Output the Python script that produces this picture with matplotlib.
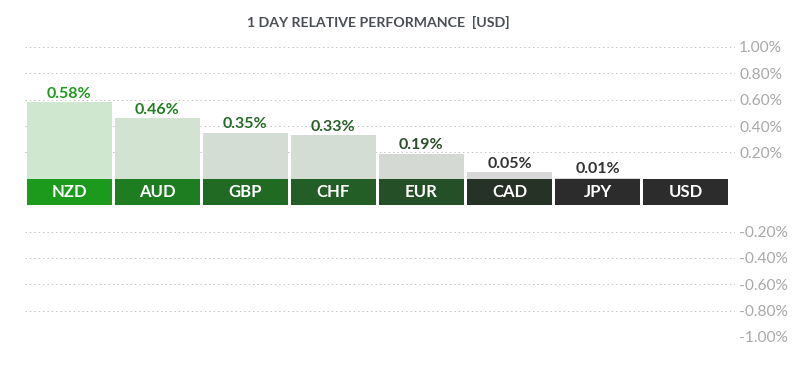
import matplotlib.pyplot as plt
from matplotlib.patches import Rectangle

# datos
monedas = ["NZD", "AUD", "GBP", "CHF", "EUR", "CAD", "JPY", "USD"]
valores = [0.58, 0.46, 0.35, 0.33, 0.19, 0.05, 0.01, 0.0]
etiquetas_valor = ["0.58%", "0.46%", "0.35%", "0.33%", "0.19%", "0.05%", "0.01%", ""]
ticks_pos = [1.0, 0.8, 0.6, 0.4, 0.2]
ticks_neg = [-0.2, -0.4, -0.6, -0.8, -1.0]

color_caja = ["#1c9a1c", "#1f7d21", "#216a24", "#225e26", "#244f27", "#273227", "#2c2c2c", "#2c2c2c"]
color_barra = ["#cfe7cf", "#d2e3d2", "#d3ddd3", "#d3ddd3", "#d4d9d4", "#d8d8d8", "#d9d9d9", "#d9d9d9"]
color_texto = ["#1f9a1f", "#217d21", "#256b25", "#275f27", "#294f29", "#333333", "#333333", "#333333"]

BANDA = 0.2  # alto de la franja de etiquetas (en unidades de %)
fuente = "Lato"

fig = plt.figure(figsize=(8, 3.71), dpi=100)
ax = fig.add_axes([25 / 800, 34 / 371, 710 / 800, 290 / 371])
ax.set_xlim(-0.5, 7.56)
ax.set_ylim(-1.0 - BANDA, 1.0)
for s in ax.spines.values():
    s.set_visible(False)
ax.set_xticks([])

# rejilla y etiquetas del eje
pos_y = ticks_pos + [t - BANDA for t in ticks_neg]
ax.set_yticks(pos_y)
ax.set_yticklabels([f"{t:.2f}%" for t in ticks_pos + ticks_neg])
ax.yaxis.tick_right()
ax.tick_params(axis="y", length=0, pad=3, labelsize=11.2, labelcolor="#a9a9a9")
for lbl in ax.get_yticklabels():
    lbl.set_fontfamily(fuente)
for y in pos_y:
    ax.axhline(y, color="#c4c4c4", linestyle=(0, (1.5, 3)), linewidth=0.7, zorder=0)

# barras y franja de monedas
ancho = 0.965
for i, (m, v) in enumerate(zip(monedas, valores)):
    ax.bar(i, v, width=ancho, bottom=0, color=color_barra[i], linewidth=0, zorder=2)
    ax.add_patch(Rectangle((i - ancho / 2, -BANDA), ancho, BANDA, facecolor=color_caja[i],
                           linewidth=0, zorder=3))
    ax.text(i, -BANDA / 2, m, ha="center", va="center", color="white",
            fontsize=12, fontweight="bold", fontfamily=fuente, zorder=4)
    if etiquetas_valor[i]:
        ax.text(i, v + 0.012, etiquetas_valor[i], ha="center", va="bottom",
                color=color_texto[i], fontsize=11.5, fontweight="bold",
                fontfamily=fuente, zorder=4)

fig.text(378 / 800, 1 - 22 / 371, "1 DAY RELATIVE PERFORMANCE  [USD]", ha="center", va="center",
         fontsize=10.2, fontweight="bold", fontfamily=fuente, color="#4a4e55")

fig.savefig("out.png", dpi=100, facecolor="white")
